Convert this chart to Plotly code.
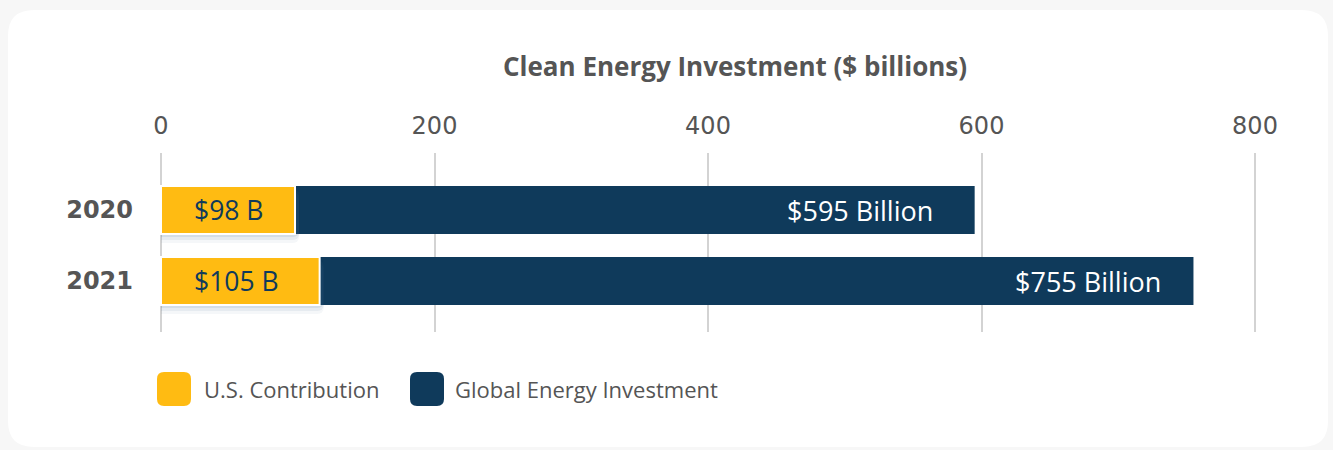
import plotly.graph_objects as go

# ---- data ----
years = ["2020", "2021"]
global_values = [595, 755]
us_values = [98, 116]          # drawn bar lengths
us_labels = ["$98 B", "$105 B"]
global_labels = ["$595 Billion", "$755 Billion"]
x_ticks = [0, 200, 400, 600, 800]
series_names = ["U.S. Contribution", "Global Energy Investment"]
title_text = "Clean Energy Investment ($ billions)"

# ---- styling ----
NAVY = "#0f3a5b"
GOLD = "#ffbb12"
GREY_TXT = "#555555"
LABEL_FONT = "Open Sans"
W, H = 1333, 450
ML, MR, MT, MB = 158, 50, 153, 118
PW = W - ML - MR
PH = H - MT - MB
SCALE = 1.3675            # px per unit
X0 = -3 / SCALE
X1 = X0 + PW / SCALE
ROW = 71.0                # px per category
Y_TOP = -57 / ROW
Y_BOT = Y_TOP + PH / ROW
BW = 48 / ROW
GLOBAL_LABEL_SHIFT = [-40, -30]

fig = go.Figure()

fig.add_trace(go.Bar(
    y=years, x=global_values, orientation="h", width=BW,
    marker=dict(color=NAVY, line=dict(width=0)),
    name=series_names[1], showlegend=False, hoverinfo="x+y",
))

# soft shadow under the U.S. bars
for dy, op in [(3, 0.10), (6, 0.08), (9, 0.05)]:
    fig.add_trace(go.Bar(
        y=years, x=[v + 3 for v in us_values], orientation="h", width=BW,
        offset=-BW / 2 + dy / ROW,
        marker=dict(color=f"rgba(60,100,135,{op})", line=dict(width=0), cornerradius=6),
        showlegend=False, hoverinfo="skip",
    ))

fig.add_trace(go.Bar(
    y=years, x=us_values, orientation="h", width=BW,
    marker=dict(color=GOLD, line=dict(width=2, color="white"), cornerradius=5),
    name=series_names[0], showlegend=False, hoverinfo="x+y",
))

annotations = []
for i, (v, lab) in enumerate(zip(global_values, global_labels)):
    annotations.append(dict(
        x=v, y=i, xref="x", yref="y", text=lab, showarrow=False,
        xanchor="right", yanchor="middle", xshift=GLOBAL_LABEL_SHIFT[i], yshift=0,
        font=dict(family=LABEL_FONT, size=27, color="white"),
    ))
for i, lab in enumerate(us_labels):
    annotations.append(dict(
        x=0, y=i, xref="x", yref="y", text=lab, showarrow=False,
        xanchor="left", yanchor="middle", xshift=31, yshift=0,
        font=dict(family=LABEL_FONT, size=26.5, color=NAVY),
    ))

# title
annotations.append(dict(
    x=(735 - ML) / PW, y=(H - MB - 66) / PH, xref="paper", yref="paper",
    text=f"<b>{title_text}</b>", showarrow=False, xanchor="center", yanchor="middle",
    font=dict(family=LABEL_FONT, size=26, color=GREY_TXT),
))

# legend (custom)
legend_items = [(series_names[0], GOLD, 157, 202), (series_names[1], NAVY, 410, 453)]
shapes = []
# card
cx0, cx1, cy0, cy1, r = 8 - ML, 1328 - ML, (H - MB) - 10, (H - MB) - 447, 26
card_path = (f"M {cx0+r},{cy0} L {cx1-r},{cy0} Q {cx1},{cy0} {cx1},{cy0-r} "
             f"L {cx1},{cy1+r} Q {cx1},{cy1} {cx1-r},{cy1} L {cx0+r},{cy1} "
             f"Q {cx0},{cy1} {cx0},{cy1+r} L {cx0},{cy0-r} Q {cx0},{cy0} {cx0+r},{cy0} Z")
shapes.append(dict(type="path", xref="paper", yref="paper", xsizemode="pixel", ysizemode="pixel",
                   xanchor=0, yanchor=0, path=card_path, fillcolor="white",
                   line=dict(width=0), layer="below"))
for name, col, sx, tx in legend_items:
    s = 34
    x0 = sx - ML
    x1 = x0 + s
    y0 = (H - MB) - 372
    y1 = y0 - s
    rr = 7
    p = (f"M {x0+rr},{y0} L {x1-rr},{y0} Q {x1},{y0} {x1},{y0-rr} "
         f"L {x1},{y1+rr} Q {x1},{y1} {x1-rr},{y1} L {x0+rr},{y1} "
         f"Q {x0},{y1} {x0},{y1+rr} L {x0},{y0-rr} Q {x0},{y0} {x0+rr},{y0} Z")
    shapes.append(dict(type="path", xref="paper", yref="paper", xsizemode="pixel", ysizemode="pixel",
                       xanchor=0, yanchor=0, path=p, fillcolor=col, line=dict(width=0)))
    annotations.append(dict(
        x=(tx - ML) / PW, y=((H - MB) - 389) / PH, xref="paper", yref="paper",
        text=name, showarrow=False, xanchor="left", yanchor="middle",
        font=dict(family=LABEL_FONT, size=22, color=GREY_TXT),
    ))

fig.update_layout(
    width=W, height=H,
    margin=dict(l=ML, r=MR, t=MT, b=MB, pad=0),
    paper_bgcolor="#f7f7f7", plot_bgcolor="rgba(0,0,0,0)",
    barmode="overlay", showlegend=False,
    annotations=annotations, shapes=shapes,
    xaxis=dict(
        side="top", range=[X0, X1], tickvals=x_ticks, ticktext=[str(t) for t in x_ticks],
        showgrid=True, gridcolor="#d3d3d3", gridwidth=1.5, zeroline=False,
        showline=False, ticks="", ticklabelstandoff=13,
        tickfont=dict(family="DejaVu Sans", size=24, color=GREY_TXT),
    ),
    yaxis=dict(
        type="category", categoryorder="array", categoryarray=years,
        range=[Y_BOT, Y_TOP], showgrid=False, zeroline=False, showline=False,
        ticks="", ticklabelstandoff=24,
        tickfont=dict(family="DejaVu Sans", size=24, color=GREY_TXT, weight="bold"),
    ),
)

fig.write_html("out.html")
